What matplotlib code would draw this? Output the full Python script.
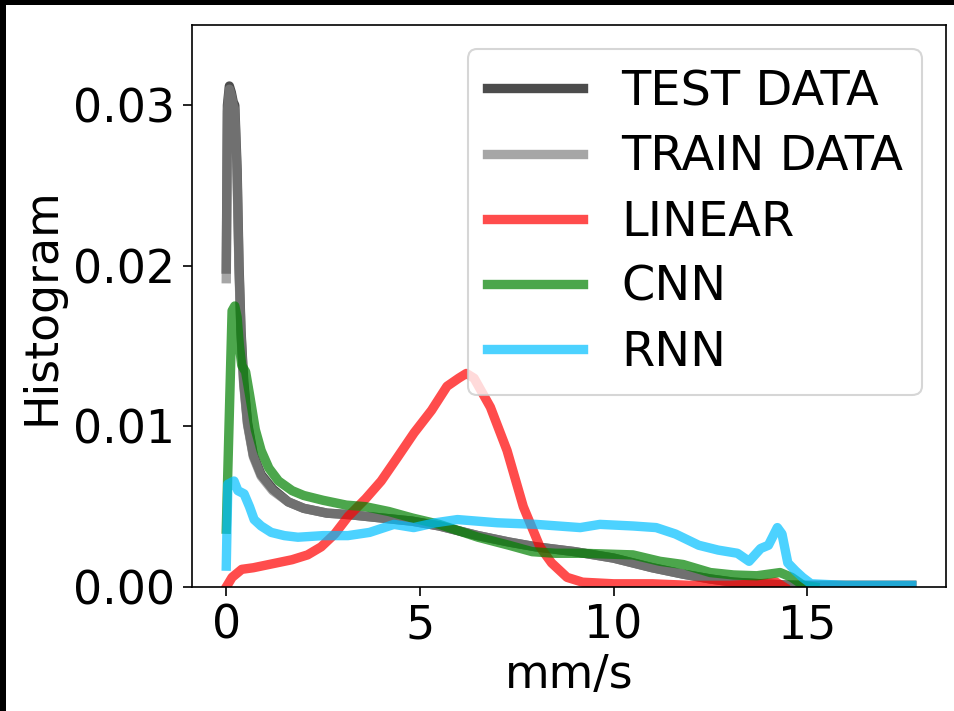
import matplotlib
matplotlib.use("Agg")
import matplotlib.pyplot as plt
from matplotlib.patches import Rectangle

# ---------------- data ----------------
test_x = [0.0, 0.03, 0.08, 0.13, 0.18, 0.22, 0.28, 0.33, 0.38, 0.45, 0.55, 0.7, 0.9, 1.2, 1.6, 2.0,
          2.6, 3.2, 4.0, 4.8, 5.5, 6.5, 7.3, 8.0, 9.0, 10.0, 11.0, 11.8, 12.5, 13.1, 13.8, 14.5,
          15.0, 15.5, 16.5, 17.7]
test_y = [0.0198, 0.0300, 0.0312, 0.0308, 0.0302, 0.0300, 0.0260, 0.0200, 0.0160, 0.0128, 0.0102,
          0.0082, 0.0070, 0.0061, 0.0053, 0.0049, 0.0046, 0.0045, 0.0043, 0.0041, 0.0038, 0.0032,
          0.0028, 0.0025, 0.0022, 0.0018, 0.0012, 0.0008, 0.0005, 0.0003, 0.0002, 0.00012, 0.0001,
          0.0001, 0.0001, 0.0001]

train_x = [0.0, 0.03, 0.08, 0.13, 0.18, 0.22, 0.28, 0.33, 0.38, 0.45, 0.55, 0.7, 0.9, 1.2, 1.6, 2.0,
           2.6, 3.2, 4.0, 4.8, 5.5, 6.5, 7.3, 8.0, 9.0, 10.0, 11.0, 11.8, 12.5, 13.1, 13.8, 14.5,
           15.0, 15.5, 16.5, 17.7]
train_y = [0.0192, 0.0296, 0.0310, 0.0306, 0.0300, 0.0297, 0.0255, 0.0196, 0.0158, 0.0126, 0.0101,
           0.0081, 0.0069, 0.0060, 0.0053, 0.0049, 0.0046, 0.0045, 0.0043, 0.0041, 0.0038, 0.0032,
           0.0028, 0.0025, 0.0022, 0.0018, 0.0012, 0.0008, 0.0005, 0.0003, 0.0002, 0.00012, 0.0001,
           0.0001, 0.0001, 0.0001]

linear_x = [0.0, 0.15, 0.4, 0.7, 1.1, 1.7, 2.1, 2.45, 2.8, 3.15, 3.6, 4.0, 4.4, 4.85, 5.3, 5.7, 6.0,
            6.2, 6.4, 6.82, 7.25, 7.67, 8.1, 8.4, 8.8, 9.2, 10.0, 11.0, 12.0, 13.0, 13.8, 14.2, 14.4]
linear_y = [0.0000, 0.0006, 0.0011, 0.0012, 0.0014, 0.0017, 0.0020, 0.0025, 0.0033, 0.0044, 0.0055,
            0.0066, 0.0080, 0.0096, 0.0110, 0.0125, 0.0130, 0.0133, 0.0130, 0.0112, 0.0085, 0.0050,
            0.0025, 0.0015, 0.0006, 0.0003, 0.0002, 0.0002, 0.0001, 0.0001, 0.0002, 0.0003, 0.0000]

cnn_x = [0.0, 0.15, 0.22, 0.28, 0.34, 0.4, 0.5, 0.6, 0.75, 0.9, 1.1, 1.35, 1.7, 2.0, 2.5, 3.1, 3.6,
         4.2, 4.8, 5.5, 6.5, 7.3, 7.9, 8.5, 9.2, 10.5, 11.2, 11.8, 12.5, 13.1, 13.7, 14.3, 14.6,
         14.9, 15.2]
cnn_y = [0.0036, 0.0172, 0.0175, 0.0168, 0.0150, 0.0138, 0.0134, 0.0120, 0.0098, 0.0085, 0.0074,
         0.0066, 0.0060, 0.0057, 0.0054, 0.0051, 0.0050, 0.0047, 0.0043, 0.0039, 0.0031, 0.0026,
         0.0022, 0.0021, 0.0021, 0.0020, 0.0016, 0.0014, 0.0009, 0.00075, 0.0007, 0.0009, 0.0006,
         0.0001, 0.0000]

rnn_x = [0.0, 0.04, 0.2, 0.3, 0.46, 0.6, 0.72, 0.9, 1.16, 1.5, 1.85, 2.5, 3.14, 3.7, 4.33, 4.84,
         5.4, 5.97, 7.0, 8.0, 9.14, 9.65, 10.5, 11.1, 11.6, 12.2, 12.7, 13.2, 13.5, 13.8, 14.0,
         14.23, 14.35, 14.5, 14.7, 14.88, 15.1, 16.0, 17.0, 17.7]
rnn_y = [0.0013, 0.0064, 0.0066, 0.0060, 0.0058, 0.0050, 0.0042, 0.0038, 0.0034, 0.0032, 0.0031,
         0.0032, 0.0032, 0.0034, 0.0039, 0.0037, 0.0040, 0.0042, 0.0040, 0.0039, 0.0037, 0.0039,
         0.0038, 0.0037, 0.0033, 0.0026, 0.0023, 0.0021, 0.0016, 0.0024, 0.0026, 0.0037, 0.0033,
         0.0015, 0.0010, 0.0006, 0.0002, 0.0001, 0.0001, 0.0001]

labels = ["TEST DATA", "TRAIN DATA", "LINEAR", "CNN", "RNN"]
xticks = [0, 5, 10, 15]
yticks = [0.00, 0.01, 0.02, 0.03]

# ---------------- figure ----------------
fig = plt.figure(figsize=(6.36, 4.74), dpi=150, facecolor="black")
fig.patches.append(Rectangle((6 / 954, 0), 1, 1 - 5 / 711, transform=fig.transFigure,
                             facecolor="white", edgecolor="none", zorder=-10))
ax = fig.add_axes([192 / 954, 1 - 587 / 711, (946 - 192) / 954, (587 - 25) / 711])

lw = 4.5
h_test, = ax.plot(test_x, test_y, color="black", alpha=0.7, lw=lw)
h_train, = ax.plot(train_x, train_y, color="gray", alpha=0.7, lw=lw)
h_lin, = ax.plot(linear_x, linear_y, color="red", alpha=0.7, lw=lw)
h_cnn, = ax.plot(cnn_x, cnn_y, color="green", alpha=0.7, lw=lw)
h_rnn, = ax.plot(rnn_x, rnn_y, color="deepskyblue", alpha=0.7, lw=lw)

ax.set_xlim(-0.885, 18.585)
ax.set_ylim(0, 0.035)
ax.set_xticks(xticks)
ax.set_yticks(yticks)
ax.set_yticklabels([f"{v:.2f}" for v in yticks])
ax.tick_params(labelsize=22, length=4.5)
ax.set_xlabel("mm/s", fontsize=22, labelpad=2)
ax.set_ylabel("Histogram", fontsize=22)

ax.legend([h_test, h_train, h_lin, h_cnn, h_rnn], labels, loc="upper right", fontsize=23,
          labelspacing=0.38)

fig.savefig("out.png", dpi=150, facecolor=fig.get_facecolor())
